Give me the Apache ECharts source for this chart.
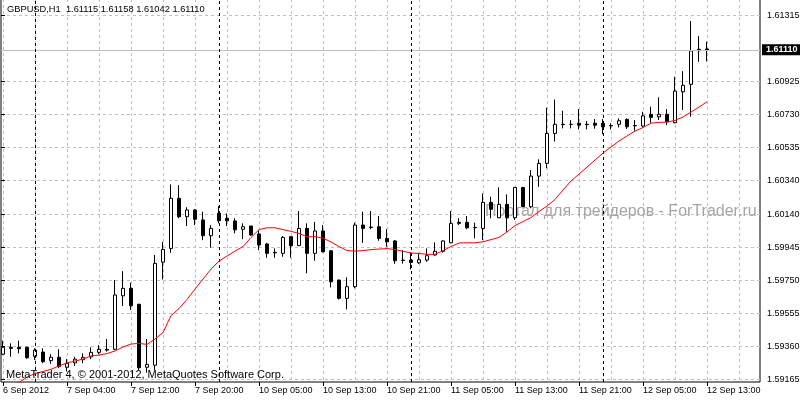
<!DOCTYPE html>
<html><head><meta charset="utf-8">
<script src="https://cdn.jsdelivr.net/npm/echarts@6/dist/echarts.min.js"></script>
<style>html,body{margin:0;padding:0;background:#fff}#chart{width:800px;height:400px}</style>
</head><body><div id="chart"></div>
<script>
const categories = [
'6 Sep 20:00','6 Sep 21:00','6 Sep 22:00','6 Sep 23:00',
'7 Sep 00:00','7 Sep 01:00','7 Sep 02:00','7 Sep 03:00','7 Sep 04:00','7 Sep 05:00','7 Sep 06:00','7 Sep 07:00','7 Sep 08:00','7 Sep 09:00','7 Sep 10:00','7 Sep 11:00','7 Sep 12:00','7 Sep 13:00','7 Sep 14:00','7 Sep 15:00','7 Sep 16:00','7 Sep 17:00','7 Sep 18:00','7 Sep 19:00','7 Sep 20:00','7 Sep 21:00','7 Sep 22:00',
'10 Sep 00:00','10 Sep 01:00','10 Sep 02:00','10 Sep 03:00','10 Sep 04:00','10 Sep 05:00','10 Sep 06:00','10 Sep 07:00','10 Sep 08:00','10 Sep 09:00','10 Sep 10:00','10 Sep 11:00','10 Sep 12:00','10 Sep 13:00','10 Sep 14:00','10 Sep 15:00','10 Sep 16:00','10 Sep 17:00','10 Sep 18:00','10 Sep 19:00','10 Sep 20:00','10 Sep 21:00','10 Sep 22:00','10 Sep 23:00',
'11 Sep 00:00','11 Sep 01:00','11 Sep 02:00','11 Sep 03:00','11 Sep 04:00','11 Sep 05:00','11 Sep 06:00','11 Sep 07:00','11 Sep 08:00','11 Sep 09:00','11 Sep 10:00','11 Sep 11:00','11 Sep 12:00','11 Sep 13:00','11 Sep 14:00','11 Sep 15:00','11 Sep 16:00','11 Sep 17:00','11 Sep 18:00','11 Sep 19:00','11 Sep 20:00','11 Sep 21:00','11 Sep 22:00','11 Sep 23:00',
'12 Sep 00:00','12 Sep 01:00','12 Sep 02:00','12 Sep 03:00','12 Sep 04:00','12 Sep 05:00','12 Sep 06:00','12 Sep 07:00','12 Sep 08:00','12 Sep 09:00','12 Sep 10:00','12 Sep 11:00','12 Sep 12:00','12 Sep 13:00',
'12 Sep 14:00','12 Sep 15:00','12 Sep 16:00','12 Sep 17:00','12 Sep 18:00','12 Sep 19:00'
];
const firstLabel = '6 Sep 2012';

const open = [1.59312,1.59353,1.59353,1.59353,1.59300,1.59325,1.59274,1.59294,1.59235,1.59261,
1.59280,1.59296,1.59323,1.59336,1.59341,1.59657,1.59701,1.59607,1.59235,1.59247,
1.59856,1.59937,1.60233,1.60124,1.60164,1.60105,1.60012,1.60144,1.60115,1.60099,
1.60050,1.60069,1.60022,1.59963,1.59914,1.59908,1.60006,1.59953,1.60055,1.59908,
1.60040,1.59923,1.59750,1.59642,1.59711,1.60075,1.60063,1.60065,1.59996,1.59981,
1.59868,1.59868,1.59852,1.59868,1.59898,1.59920,1.59970,1.60091,1.60091,1.60061,
1.60055,1.60209,1.60118,1.60197,1.60118,1.60297,1.60183,1.60364,1.60439,1.60616,
1.60670,1.60669,1.60676,1.60670,1.60676,1.60676,1.60663,1.60670,1.60699,1.60663,
1.60660,1.60729,1.60714,1.60729,1.60679,1.60862,1.60906,1.61113,1.61115];
const high = [1.59392,1.59376,1.59392,1.59356,1.59347,1.59347,1.59312,1.59341,1.59283,1.59297,
1.59317,1.59353,1.59366,1.59402,1.59750,1.59803,1.59734,1.59610,1.59402,1.59898,
1.59976,1.60315,1.60311,1.60180,1.60169,1.60154,1.60075,1.60187,1.60144,1.60115,
1.60085,1.60071,1.60045,1.59970,1.59937,1.60010,1.60010,1.60158,1.60085,1.60094,
1.60075,1.59927,1.59753,1.59766,1.60089,1.60154,1.60158,1.60128,1.60050,1.59986,
1.59927,1.59914,1.59911,1.59937,1.59973,1.59985,1.60158,1.60115,1.60128,1.60089,
1.60262,1.60242,1.60298,1.60256,1.60300,1.60300,1.60400,1.60463,1.60768,1.60816,
1.60750,1.60695,1.60760,1.60689,1.60701,1.60701,1.60676,1.60705,1.60705,1.60695,
1.60744,1.60774,1.60829,1.60760,1.60951,1.60984,1.61280,1.61191,1.61158];
const low = [1.59307,1.59297,1.59317,1.59286,1.59278,1.59259,1.59255,1.59230,1.59210,1.59243,
1.59259,1.59283,1.59312,1.59327,1.59336,1.59597,1.59573,1.59219,1.59203,1.59219,
1.59754,1.59911,1.60115,1.60069,1.60075,1.59986,1.59941,1.60085,1.60069,1.60026,
1.59992,1.60012,1.59927,1.59882,1.59882,1.59888,1.59882,1.59951,1.59790,1.59864,
1.59913,1.59707,1.59635,1.59577,1.59701,1.59970,1.60050,1.59982,1.59947,1.59846,
1.59847,1.59813,1.59846,1.59858,1.59894,1.59913,1.59967,1.60075,1.60050,1.59996,
1.59986,1.60115,1.60116,1.60035,1.60105,1.60183,1.60174,1.60301,1.60410,1.60568,
1.60646,1.60646,1.60640,1.60640,1.60644,1.60612,1.60640,1.60652,1.60642,1.60632,
1.60655,1.60679,1.60695,1.60665,1.60676,1.60754,1.60715,1.61039,1.61042];
const close = [1.59353,1.59347,1.59345,1.59291,1.59336,1.59268,1.59294,1.59239,1.59257,1.59283,
1.59294,1.59323,1.59341,1.59341,1.59662,1.59701,1.59598,1.59232,1.59252,1.59849,
1.59931,1.60233,1.60124,1.60164,1.60109,1.60012,1.60055,1.60100,1.60100,1.60047,
1.60065,1.60016,1.59957,1.59908,1.59911,1.60002,1.59953,1.60055,1.59908,1.60040,
1.59917,1.59740,1.59642,1.59711,1.60075,1.60055,1.60061,1.59996,1.59976,1.59864,
1.59866,1.59854,1.59870,1.59894,1.59920,1.59981,1.60085,1.60085,1.60059,1.60059,
1.60209,1.60168,1.60197,1.60118,1.60297,1.60183,1.60364,1.60439,1.60616,1.60670,
1.60668,1.60670,1.60665,1.60668,1.60665,1.60655,1.60661,1.60691,1.60655,1.60661,
1.60720,1.60711,1.60729,1.60685,1.60866,1.60900,1.61104,1.61104,1.61110];
const ma = [1.59107,1.59124,1.59145,1.59177,1.59198,1.59210,1.59223,1.59243,1.59261,1.59272,
1.59283,1.59302,1.59307,1.59316,1.59331,1.59355,1.59372,1.59376,1.59370,1.59402,
1.59440,1.59540,1.59582,1.59635,1.59697,1.59756,1.59815,1.59862,1.59892,1.59921,
1.59948,1.60001,1.60048,1.60059,1.60059,1.60048,1.60038,1.60025,1.60006,1.60006,
1.59998,1.59975,1.59948,1.59924,1.59921,1.59924,1.59930,1.59933,1.59936,1.59930,
1.59920,1.59910,1.59907,1.59902,1.59902,1.59924,1.59948,1.59969,1.59970,1.59970,
1.59976,1.59989,1.60002,1.60034,1.60072,1.60096,1.60119,1.60155,1.60187,1.60226,
1.60282,1.60335,1.60376,1.60417,1.60459,1.60500,1.60536,1.60571,1.60601,1.60630,
1.60651,1.60677,1.60681,1.60683,1.60693,1.60713,1.60742,1.60772,1.60803];

const yTicks = [1.59165,1.59360,1.59555,1.59750,1.59945,1.60140,1.60340,1.60535,1.60730,1.60925,1.61315];
const yMin = 1.59148, yMax = 1.61410;
const daySeparators = ['7 Sep 00:00','10 Sep 00:00','11 Sep 00:00','12 Sep 00:00'];
const currentPrice = 1.61110;
const titleText = 'GBPUSD,H1  1.61115 1.61158 1.61042 1.61110';
const copyrightText = 'MetaTrader 4, \u00a9 2001-2012, MetaQuotes Software Corp.';
const watermarkText = 'Портал для трейдеров - ForTrader.ru';

const FONT = '"Liberation Sans", Arial, sans-serif';
const candles = open.map((o, i) => [o, close[i], low[i], high[i]]);

const chart = echarts.init(document.getElementById('chart'), null, {renderer: 'canvas'});
chart.setOption({
  animation: false,
  backgroundColor: '#fff',
  textStyle: {fontFamily: FONT},
  title: {
    text: titleText, left: 7, top: 5, padding: 0,
    textStyle: {fontSize: 9.3, fontWeight: 'normal', color: '#000', fontFamily: FONT}
  },
  grid: [
    {left: 3, right: 45, top: -1, bottom: 18, outerBoundsMode: 'none', containLabel: false},
    {left: 1, right: 40, top: -1, bottom: 18, outerBoundsMode: 'none', containLabel: false,
     show: true, borderColor: '#000', borderWidth: 1, backgroundColor: 'transparent'}
  ],
  xAxis: [
    {
      type: 'category', gridIndex: 0, data: categories, boundaryGap: false,
      axisLine: {show: false},
      axisTick: {show: true, interval: 7, length: 4, inside: false, lineStyle: {color: '#000'}},
      axisLabel: {
        interval: 7, align: 'left', margin: 4, fontSize: 9, color: '#000', fontFamily: FONT,
        formatter: (v, i) => (i === 0 ? firstLabel : v)
      },
      splitLine: {show: true, interval: 3, lineStyle: {color: '#c0c0c0', type: [3, 3], width: 1}}
    },
    {type: 'value', gridIndex: 1, min: 0, max: 1, show: false}
  ],
  yAxis: [
    {type: 'value', gridIndex: 0, min: yMin, max: yMax, show: false, splitLine: {show: false}},
    {
      type: 'value', gridIndex: 1, position: 'right', min: yMin, max: yMax,
      axisLine: {show: false},
      axisTick: {show: true, length: 4, inside: false, customValues: yTicks, lineStyle: {color: '#000'}},
      axisLabel: {
        customValues: yTicks, margin: 7, fontSize: 9, color: '#000', fontFamily: FONT,
        formatter: v => Number(v).toFixed(5)
      },
      splitLine: {show: true, lineStyle: {color: '#c0c0c0', type: [3, 3], width: 1}}
    }
  ],
  graphic: [
    {type: 'text', left: 485, top: 204, z: 1, silent: true,
     style: {text: watermarkText, fill: '#aaa3a3', font: '16px ' + FONT}},
    {type: 'text', left: 6, top: 369, z: 100, silent: true,
     style: {text: copyrightText, fill: '#000', font: '11px ' + FONT}}
  ],
  series: [
    {
      type: 'line', xAxisIndex: 1, yAxisIndex: 1, data: [], silent: true,
      markLine: {
        silent: true, symbol: 'none', animation: false, precision: 5,
        lineStyle: {color: '#c0c0c0', type: 'solid', width: 1},
        label: {
          position: 'end', distance: 2, formatter: () => currentPrice.toFixed(5),
          backgroundColor: '#000', color: '#fff', fontSize: 9, fontWeight: 'bold',
          fontFamily: FONT, padding: [1, 4, 0, 4], lineHeight: 10
        },
        data: [{yAxis: currentPrice}]
      }
    },
    {
      type: 'candlestick', xAxisIndex: 0, yAxisIndex: 0, data: candles, clip: false,
      barWidth: 4, silent: true,
      itemStyle: {color: '#fff', color0: '#000', borderColor: '#000', borderColor0: '#000', borderWidth: 1},
      markLine: {
        silent: true, symbol: 'none', animation: false,
        label: {show: false},
        lineStyle: {color: '#000', type: [3, 3], width: 1},
        data: daySeparators.map(d => ({xAxis: d}))
      }
    },
    {
      type: 'line', xAxisIndex: 0, yAxisIndex: 0, data: ma, showSymbol: false, symbol: 'none',
      silent: true, z: 5,
      lineStyle: {color: '#ff0000', width: 1}
    }
  ]
});
</script>
</body></html>
